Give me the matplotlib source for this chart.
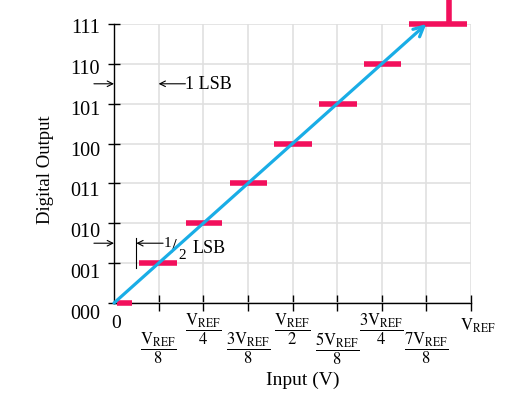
import matplotlib
matplotlib.use("Agg")
import matplotlib.pyplot as plt
import matplotlib.transforms as mtransforms

plt.rcParams['font.family'] = ['Liberation Serif', 'DejaVu Serif']
plt.rcParams['mathtext.fontset'] = 'stix'

# ---- data ----
codes = [0, 1, 2, 3, 4, 5, 6, 7]
code_labels = ['000', '001', '010', '011', '100', '101', '110', '111']
bar_start = [0.06, 0.56, 1.61, 2.59, 3.59, 4.60, 5.60, 6.60]   # in steps of VREF/8
bar_end = [0.40, 1.41, 2.41, 3.43, 4.43, 5.44, 6.44, 7.92]
top_marker_x = 7.5
x_ticks = [1, 2, 3, 4, 5, 6, 7, 8]
x_tick_labels = [r'$\dfrac{\mathrm{V}_{\mathrm{REF}}}{8}$',
                 r'$\dfrac{\mathrm{V}_{\mathrm{REF}}}{4}$',
                 r'$\dfrac{3\mathrm{V}_{\mathrm{REF}}}{8}$',
                 r'$\dfrac{\mathrm{V}_{\mathrm{REF}}}{2}$',
                 r'$\dfrac{5\mathrm{V}_{\mathrm{REF}}}{8}$',
                 r'$\dfrac{3\mathrm{V}_{\mathrm{REF}}}{4}$',
                 r'$\dfrac{7\mathrm{V}_{\mathrm{REF}}}{8}$',
                 r'$\mathrm{V}_{\mathrm{REF}}$']
x_label_row = [1, 0, 1, 0, 1, 0, 1, 2]   # 0 upper, 1 lower, 2 plain
ideal_x = [0, 7]
ideal_y = [0, 7]

RED = '#f2105c'
BLUE = '#19ade6'

fig = plt.figure(figsize=(5.16, 3.93), dpi=100)
ax = fig.add_axes([114/516, 90/393, 357/516, 279/393])
ax.set_xlim(0, 8)
ax.set_ylim(0, 7)

for s in ['top', 'right']:
    ax.spines[s].set_visible(False)
for s in ['left', 'bottom']:
    ax.spines[s].set_color('black')
    ax.spines[s].set_linewidth(1.0)
    ax.spines[s].set_zorder(3)

ax.set_xticks(x_ticks)
ax.set_xticklabels([''] * len(x_ticks))
ax.set_yticks(codes)
ax.set_yticklabels(code_labels)
ax.tick_params(axis='x', direction='inout', length=12, width=1, color='black')
ax.tick_params(axis='y', direction='inout', length=8, width=1, color='black',
               pad=6, labelsize=14.5)
ax.grid(True, color='#e0e0e0', linewidth=1.2, zorder=0)
ax.set_axisbelow(True)

# shift y tick labels slightly down
for i, lab in enumerate(ax.get_yticklabels()):
    dy = -(2 + (7 - i)) / 100.0
    lab.set_transform(lab.get_transform() +
                      mtransforms.ScaledTranslation(0, dy, fig.dpi_scale_trans))

# x tick labels
row_y = {0: -0.093, 1: -0.163, 2: -0.082}
for x, lab, r in zip(x_ticks, x_tick_labels, x_label_row):
    dx = 0.15 if r == 2 else 0
    ax.text(x + dx, row_y[r], lab, transform=ax.get_xaxis_transform(),
            ha='center', va='center', fontsize=12)
ax.text(0.05, -0.072, '0', transform=ax.get_xaxis_transform(),
        ha='center', va='center', fontsize=14)

# red code bars
for k, a, b in zip(codes, bar_start, bar_end):
    ax.plot([a, b], [k, k], color=RED, lw=4, solid_capstyle='butt',
            zorder=4, clip_on=False)
ax.plot([top_marker_x, top_marker_x], [7, 7.7], color=RED, lw=4,
        solid_capstyle='butt', zorder=4, clip_on=False)

# ideal transfer line with arrow
ax.annotate('', xy=(ideal_x[1], ideal_y[1]), xytext=(ideal_x[0], ideal_y[0]),
            arrowprops=dict(arrowstyle='->', color=BLUE, lw=2.3,
                            mutation_scale=18, shrinkA=0, shrinkB=0),
            zorder=5)

# 1 LSB annotation
ax.annotate('', xy=(0, 5.5), xytext=(-0.45, 5.5),
            arrowprops=dict(arrowstyle='->', color='black', lw=0.8,
                            shrinkA=0, shrinkB=0), annotation_clip=False)
ax.annotate('', xy=(1.0, 5.5), xytext=(1.6, 5.5),
            arrowprops=dict(arrowstyle='->', color='black', lw=0.8,
                            shrinkA=0, shrinkB=0), annotation_clip=False)
ax.text(1.6, 5.47, '1 LSB', ha='left', va='center', fontsize=13)

# 1/2 LSB annotation
ax.annotate('', xy=(0, 1.5), xytext=(-0.45, 1.5),
            arrowprops=dict(arrowstyle='->', color='black', lw=0.8,
                            shrinkA=0, shrinkB=0), annotation_clip=False)
ax.plot([0.5, 0.5], [0.87, 1.62], color='black', lw=0.8, zorder=3)
ax.annotate('', xy=(0.5, 1.5), xytext=(1.1, 1.5),
            arrowprops=dict(arrowstyle='->', color='black', lw=0.8,
                            shrinkA=0, shrinkB=0), annotation_clip=False)
ax.text(1.12, 1.5, '1', ha='left', va='center', fontsize=11)
ax.text(1.27, 1.37, '/', ha='left', va='center', fontsize=15)
ax.text(1.44, 1.2, '2', ha='left', va='center', fontsize=11)
ax.text(1.77, 1.36, 'LSB', ha='left', va='center', fontsize=13)

fig.text(45/516, 1 - 170/393, 'Digital Output', rotation=90,
         ha='center', va='center', fontsize=13.5)
fig.text(303/516, 1 - 380/393, 'Input (V)', ha='center', va='center',
         fontsize=14)

fig.savefig('out.png', dpi=100)
